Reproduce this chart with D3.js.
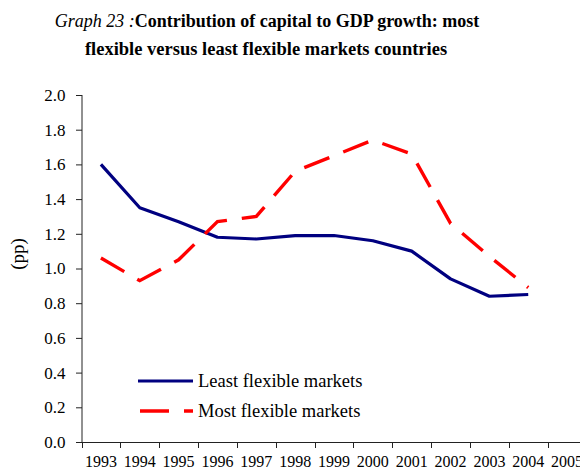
<!DOCTYPE html>
<html>
<head>
<meta charset="utf-8">
<script src="https://cdn.jsdelivr.net/npm/d3@7"></script>
<style>
    body { margin: 0; background: #fff; }
    svg { display: block; font-family: "Liberation Serif", "Times New Roman", serif; }
</style>
</head>
<body>
<div id="chart"></div>
<script>

    var years = ["1993", "1994", "1995", "1996", "1997", "1998", "1999", "2000", "2001", "2002", "2003", "2004", "2005"];

    var leastFlexible = [1.60, 1.35, 1.27, 1.18, 1.17, 1.19, 1.19, 1.16, 1.10, 0.94, 0.84, 0.85];

    var mostFlexible = [1.06, 0.93, 1.05, 1.27, 1.30, 1.56, 1.65, 1.74, 1.66, 1.26, 1.07, 0.89];

    var yTicks = [0, 0.2, 0.4, 0.6, 0.8, 1.0, 1.2, 1.4, 1.6, 1.8, 2.0];

    var seriesNames = ["Least flexible markets", "Most flexible markets"];

(function() {

    var w = 580, h = 474;
    var plotLeft = 81.5, plotRight = 586.5, plotTop = 95, plotBottom = 442;

    var svg = d3.select("#chart").append("svg")
        .attr("width", w)
        .attr("height", h);

    // title
    var title = svg.append("text")
        .attr("x", 267)
        .attr("y", 27)
        .attr("text-anchor", "middle")
        .style("font-size", "18px");
    title.append("tspan")
        .style("font-style", "italic")
        .text("Graph 23 :");
    title.append("tspan")
        .style("font-weight", "bold")
        .text("Contribution of capital to GDP growth: most");

    svg.append("text")
        .attr("x", 266)
        .attr("y", 55)
        .attr("text-anchor", "middle")
        .style("font-size", "18.5px")
        .style("font-weight", "bold")
        .text("flexible versus least flexible markets countries");

    // scales
    var xScale = d3.scaleBand()
        .domain(years)
        .range([plotLeft, plotRight]);

    var yScale = d3.scaleLinear()
        .domain([0, 2])
        .range([plotBottom, plotTop]);

    function xMid(i) {
        return xScale(years[i]) + xScale.bandwidth() / 2;
    }

    // y axis
    var yAxis = d3.axisLeft(yScale)
        .tickValues(yTicks)
        .tickSize(6)
        .tickPadding(10)
        .tickFormat(d3.format(".1f"));

    var gy = svg.append("g")
        .attr("transform", "translate(" + plotLeft + ",0)")
        .call(yAxis);
    gy.select(".domain")
        .attr("d", "M0.5," + plotTop + "V" + plotBottom)
        .attr("stroke", "#222");
    gy.selectAll("line").attr("x1", 0.5).attr("x2", -5.5).attr("stroke", "#222");
    gy.selectAll("text")
        .style("font-size", "17px")
        .style("font-family", "Liberation Serif, serif")
        .attr("fill", "#000");

    // x axis: labels in band centres, tick marks on band edges
    var xAxis = d3.axisBottom(xScale)
        .tickSize(0)
        .tickPadding(14);

    var gx = svg.append("g")
        .attr("transform", "translate(0," + plotBottom + ")")
        .call(xAxis);
    gx.select(".domain")
        .attr("d", "M" + plotLeft + ",0.5H" + plotRight)
        .attr("stroke", "#222");
    gx.selectAll("text")
        .style("font-size", "16px")
        .style("font-family", "Liberation Serif, serif")
        .attr("fill", "#000");

    gx.selectAll(".edge")
        .data(years)
        .enter().append("line")
        .attr("class", "edge")
        .attr("x1", function(d) { return Math.round(xScale(d)) + 0.5; })
        .attr("x2", function(d) { return Math.round(xScale(d)) + 0.5; })
        .attr("y1", 0)
        .attr("y2", 6)
        .attr("stroke", "#222");

    // y axis title
    svg.append("text")
        .attr("transform", "translate(24,254) rotate(-90)")
        .attr("text-anchor", "middle")
        .style("font-size", "19px")
        .text("(pp)");

    // lines
    var line = d3.line()
        .x(function(d, i) { return xMid(i); })
        .y(function(d) { return yScale(d); });

    svg.append("path")
        .datum(leastFlexible)
        .attr("d", line)
        .attr("fill", "none")
        .attr("stroke", "#000080")
        .attr("stroke-width", 3.2)
        .attr("stroke-linejoin", "round");

    svg.append("path")
        .datum(mostFlexible)
        .attr("d", line)
        .attr("fill", "none")
        .attr("stroke", "#ff0000")
        .attr("stroke-width", 3.4)
        .attr("stroke-dasharray", "27,15");

    // legend
    var legend = svg.append("g");

    legend.append("line")
        .attr("x1", 138).attr("x2", 193)
        .attr("y1", 381).attr("y2", 381)
        .attr("stroke", "#000080")
        .attr("stroke-width", 3.2);

    legend.append("line")
        .attr("x1", 140).attr("x2", 193)
        .attr("y1", 411).attr("y2", 411)
        .attr("stroke", "#ff0000")
        .attr("stroke-width", 3.4)
        .attr("stroke-dasharray", "29,15");

    legend.selectAll("text")
        .data(seriesNames)
        .enter().append("text")
        .attr("x", 198)
        .attr("y", function(d, i) { return 387 + i * 30; })
        .style("font-size", "18.5px")
        .text(function(d) { return d; });

})();

</script>
</body>
</html>
